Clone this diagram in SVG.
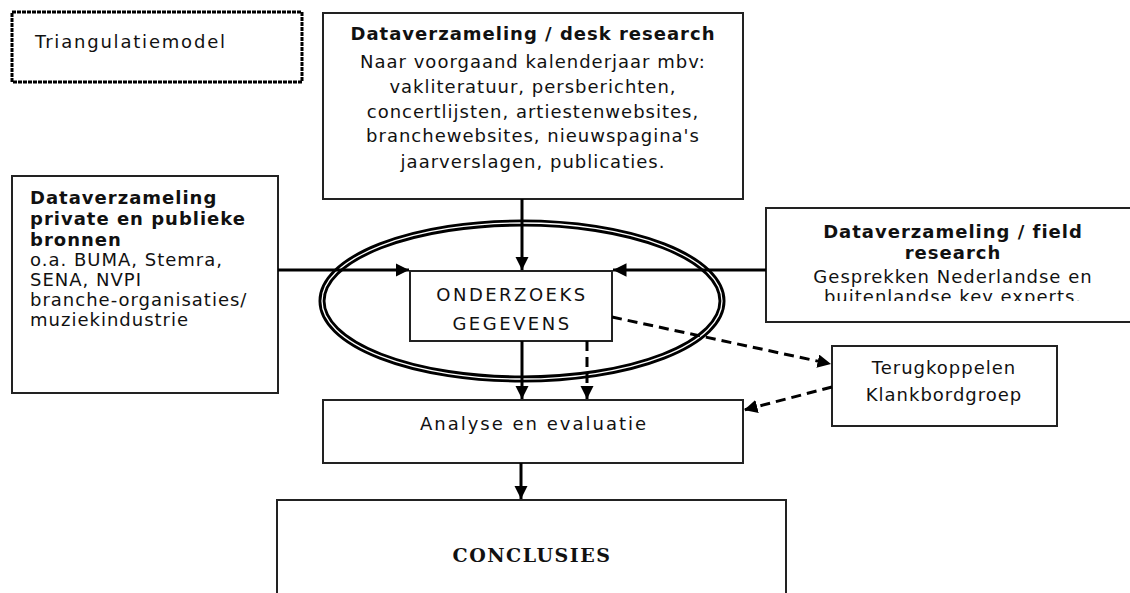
<svg xmlns="http://www.w3.org/2000/svg" width="1130" height="593" viewBox="0 0 1130 593">
<style>
.box{fill:#fff;stroke:#222;stroke-width:2}
.t{font-family:"DejaVu Sans",Verdana,sans-serif;font-size:18px;fill:#111;letter-spacing:1px}
.b{font-weight:bold}
.c{text-anchor:middle}
.w{letter-spacing:2.5px}
.ln{stroke:#000;stroke-width:3;fill:none}
.dl{stroke:#000;stroke-width:3;fill:none;stroke-dasharray:10 6}
</style>
<defs>
<marker id="ah" viewBox="0 0 10 10" refX="10" refY="5" markerWidth="4.5" markerHeight="4.5" orient="auto" markerUnits="strokeWidth">
<path d="M0,0 L10,5 L0,10 Z" fill="#000"/>
</marker>
<clipPath id="clipR"><rect x="767" y="209" width="363" height="92"/></clipPath>
</defs>
<rect width="1130" height="593" fill="#fff"/>

<g id="triangulatiemodel">
<rect x="12" y="12" width="290" height="70" fill="#fff" stroke="#000" stroke-width="3" stroke-dasharray="4 1"/>
<text class="t" x="35" y="48" style="letter-spacing:1.8px">Triangulatiemodel</text>
</g>

<g id="desk">
<rect class="box" x="323" y="13" width="420" height="186"/>
<text class="t c b" x="533" y="40">Dataverzameling / desk research</text>
<text class="t c" x="533" y="68">Naar voorgaand kalenderjaar mbv:</text>
<text class="t c" x="533" y="93">vakliteratuur, persberichten,</text>
<text class="t c" x="533" y="118">concertlijsten, artiestenwebsites,</text>
<text class="t c" x="533" y="142">branchewebsites, nieuwspagina's</text>
<text class="t c" x="533" y="168">jaarverslagen, publicaties.</text>
</g>

<g id="private">
<rect class="box" x="12" y="176" width="266" height="217"/>
<text class="t b" x="30" y="204">Dataverzameling</text>
<text class="t b" x="30" y="225">private en publieke</text>
<text class="t b" x="30" y="246">bronnen</text>
<text class="t" x="30" y="266">o.a. BUMA, Stemra,</text>
<text class="t" x="30" y="286">SENA, NVPI</text>
<text class="t" x="30" y="306">branche-organisaties/</text>
<text class="t" x="30" y="326">muziekindustrie</text>
</g>

<g id="field">
<rect class="box" x="766" y="208" width="370" height="114"/>
<g clip-path="url(#clipR)">
<text class="t c b" x="953" y="238">Dataverzameling / field</text>
<text class="t c b" x="953" y="259">research</text>
<text class="t c" x="953" y="283">Gesprekken Nederlandse en</text>
<text class="t c" x="953" y="303">buitenlandse key experts.</text>
</g>
</g>

<g id="ellips">
<ellipse cx="522" cy="301" rx="200" ry="78" fill="none" stroke="#000" stroke-width="7"/>
<ellipse cx="522" cy="301" rx="200" ry="78" fill="none" stroke="#fff" stroke-width="1.3"/>
</g>

<g id="onderzoeks">
<rect class="box" x="410" y="271" width="202" height="70"/>
<text class="t c w" x="512" y="301">ONDERZOEKS</text>
<text class="t c w" x="512" y="330">GEGEVENS</text>
</g>

<g id="analyse">
<rect class="box" x="323" y="400" width="420" height="63"/>
<text class="t c" x="534" y="430" style="letter-spacing:2px">Analyse en evaluatie</text>
</g>

<g id="terugkoppelen">
<rect class="box" x="832" y="346" width="225" height="80"/>
<text class="t c" x="944" y="374">Terugkoppelen</text>
<text class="t c" x="944" y="401">Klankbordgroep</text>
</g>

<g id="conclusies">
<rect class="box" x="277" y="500" width="509" height="110"/>
<text x="532" y="562" text-anchor="middle" font-family="'DejaVu Serif',serif" font-weight="bold" font-size="19" letter-spacing="1.5" fill="#111">CONCLUSIES</text>
</g>

<g id="connectors">
<line class="ln" x1="522" y1="199" x2="522" y2="270" marker-end="url(#ah)"/>
<line class="ln" x1="278" y1="270" x2="409" y2="270" marker-end="url(#ah)"/>
<line class="ln" x1="766" y1="270" x2="613" y2="270" marker-end="url(#ah)"/>
<line class="ln" x1="522" y1="341" x2="522" y2="399" marker-end="url(#ah)"/>
<line class="dl" x1="587" y1="341" x2="587" y2="399" marker-end="url(#ah)"/>
<line class="dl" x1="612" y1="317" x2="831" y2="364" marker-end="url(#ah)"/>
<line class="dl" x1="832" y1="387" x2="744" y2="410" marker-end="url(#ah)"/>
<line class="ln" x1="521" y1="463" x2="521" y2="499" marker-end="url(#ah)"/>
</g>
</svg>
